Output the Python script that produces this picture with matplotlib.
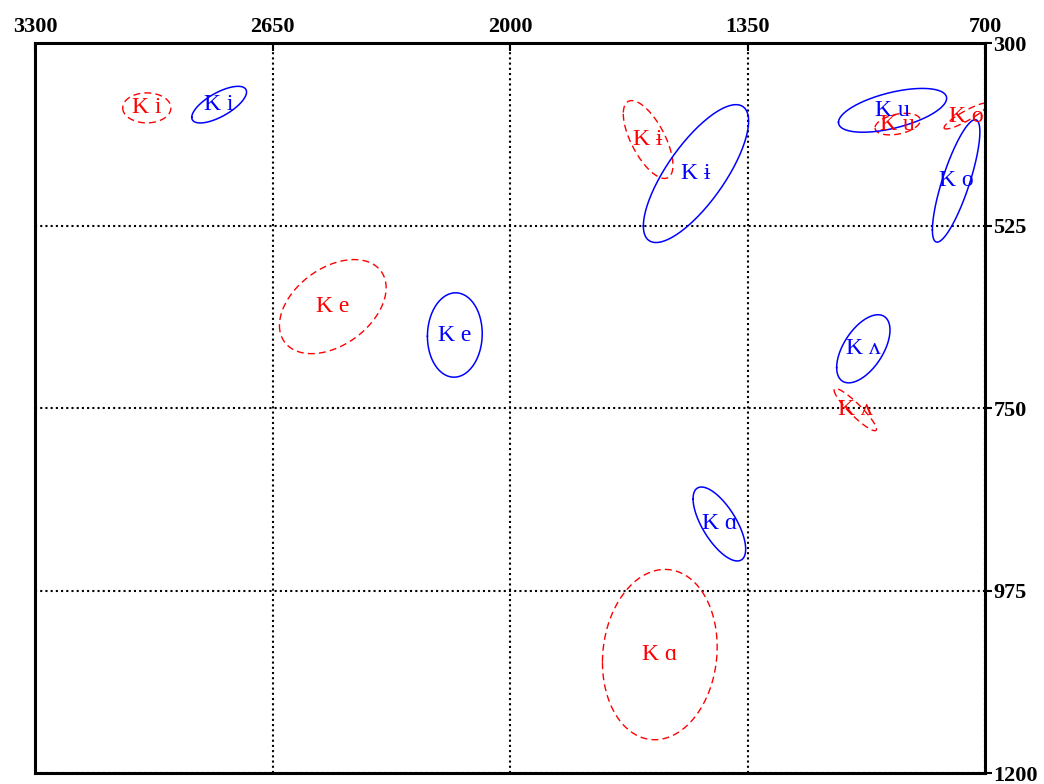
import numpy as np
import matplotlib
matplotlib.use("Agg")
import matplotlib.pyplot as plt

# Vowel ellipses: mean F2 / F1 (Hz), standard deviations and F1-F2 correlation
vowels_a = ["i", "ɨ", "u", "o", "e", "ʌ", "ɑ"]
f2_mean_a = [2994, 1622, 939, 752, 2485, 1055, 1590]
f1_mean_a = [380, 419, 400, 390, 625, 752, 1054]
f2_sd_a = [66, 68, 62, 60, 146, 58, 157]
f1_sd_a = [18.5, 48, 13.3, 16, 58, 26, 105]
corr_a = [0.0, -0.66, 0.35, 0.9, 0.4, -0.92, 0.09]

vowels_b = ["i", "ɨ", "u", "o", "e", "ʌ", "ɑ"]
f2_mean_b = [2796, 1491, 953, 779, 2151, 1033, 1427]
f1_mean_b = [376, 461, 383, 470, 660, 677, 893]
f2_sd_b = [75, 144, 148, 65, 75, 73, 72]
f1_sd_b = [22.6, 85, 27, 75.5, 52, 42, 45.6]
corr_b = [0.69, 0.76, 0.55, 0.8, 0.03, 0.55, -0.68]

f2_ticks = [3300, 2650, 2000, 1350, 700]
f1_ticks = [300, 525, 750, 975, 1200]

serif = ["Liberation Serif", "DejaVu Serif"]


def ellipse_points(mx, my, sx, sy, r, n=200):
    t = np.linspace(0, 2 * np.pi, n)
    x = mx + sx * np.cos(t)
    y = my + sy * (r * np.cos(t) + np.sqrt(1 - r * r) * np.sin(t))
    return x, y


fig = plt.figure(figsize=(10.44, 7.84), dpi=100)
ax = fig.add_axes([35 / 1044, 1 - 773 / 784, 950 / 1044, 730 / 784])

groups = [
    (vowels_a, f2_mean_a, f1_mean_a, f2_sd_a, f1_sd_a, corr_a, "red", (0, (5, 3)), 1.0),
    (vowels_b, f2_mean_b, f1_mean_b, f2_sd_b, f1_sd_b, corr_b, "blue", "-", 1.1),
]
for labels, mx, my, sx, sy, rr, col, ls, lw in groups:
    for v, a, b, c, d, r in zip(labels, mx, my, sx, sy, rr):
        ex, ey = ellipse_points(a, b, c, d, r)
        ax.plot(ex, ey, color=col, linestyle=ls, lw=lw)
        ax.text(a, b, "K " + v, color=col, ha="center", va="center",
                fontsize=17, family=serif)

ax.set_xlim(3300, 700)
ax.set_ylim(1200, 300)
ax.set_xticks(f2_ticks)
ax.set_yticks(f1_ticks)
ax.xaxis.tick_top()
ax.yaxis.tick_right()
ax.tick_params(axis="x", direction="in", length=6, width=1.5, pad=4)
ax.tick_params(axis="y", direction="out", length=5, width=1.5, pad=1)
for lab in ax.get_xticklabels() + ax.get_yticklabels():
    lab.set_family(serif)
    lab.set_fontweight("bold")
    lab.set_fontsize(16)

ax.grid(True, color="black", linestyle=(0, (1, 1.5)), lw=1.5)
for s in ax.spines.values():
    s.set_linewidth(2.2)

fig.savefig("out.png", dpi=100)
